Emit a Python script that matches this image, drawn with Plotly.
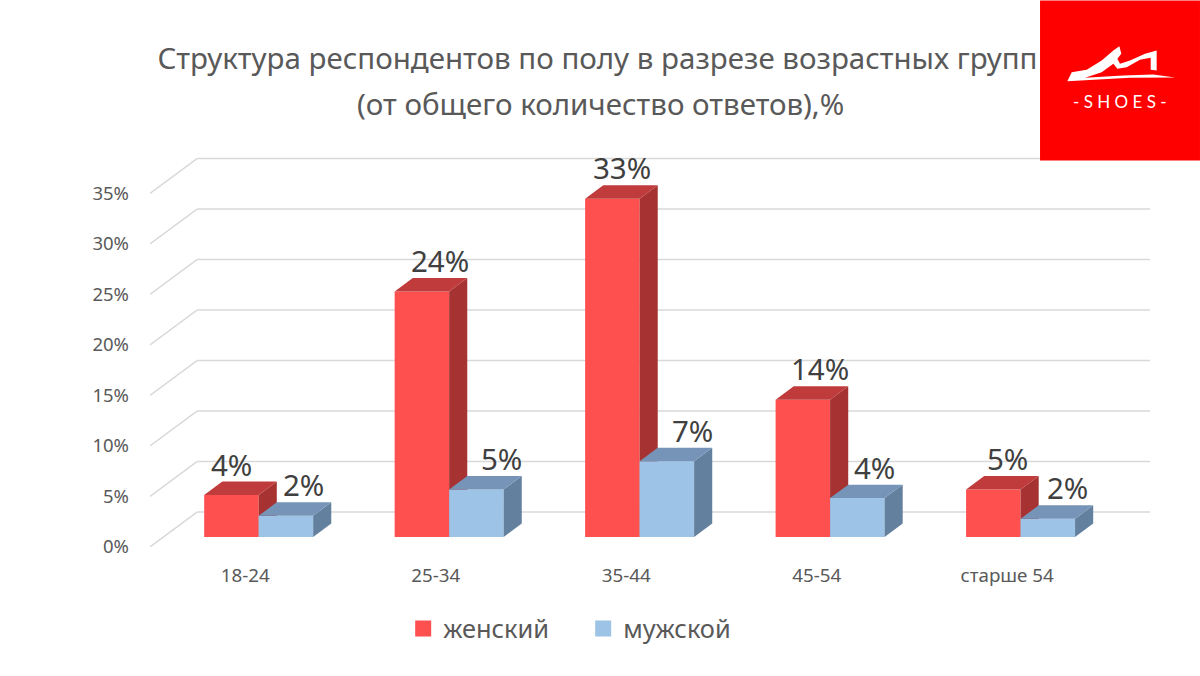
import plotly.graph_objects as go

# ---- data ----
categories = ["18-24", "25-34", "35-44", "45-54", "старше 54"]
female = [4.15, 24.3, 33.5, 13.6, 4.7]
male = [2.1, 4.7, 7.5, 3.85, 1.8]
female_labels = ["4%", "24%", "33%", "14%", "5%"]
male_labels = ["2%", "5%", "7%", "4%", "2%"]
y_ticks = [0, 5, 10, 15, 20, 25, 30, 35]
y_tick_labels = ["0%", "5%", "10%", "15%", "20%", "25%", "30%", "35%"]
title_line_1 = "Структура респондентов по полу в разрезе возрастных групп"
title_line_2 = "(от общего количество ответов),%"

# ---- styling / projection ----
W, H = 1200, 676
FONT = "Noto Sans"
GREY = "#595959"
PLOT_L, PLOT_R, PLOT_T, PLOT_B = 149.75, 1150.0, 142.6, 547.0
PX_X = 190.5            # px per category
PX_Y = 10.11            # px per percent
DX = 47 / PX_X          # wall depth, x units
DY = 35 / PX_Y          # wall depth, y units
BAR_NEAR = 10 / 35      # depth fraction of the bars' front face
BAR_FAR = 23.5 / 35     # depth fraction of the bars' back face
BAR_W = 54.5 / PX_X
F_NUDGE = [0, 18, 10, 17, 14]
M_NUDGE = [18, 25, 26, 17, 20]
X_RANGE = [-0.5, 4.75]
Y_RANGE = [0, 40]

bx0 = BAR_NEAR * DX
by0 = BAR_NEAR * DY
ddx = (BAR_FAR - BAR_NEAR) * DX
ddy = (BAR_FAR - BAR_NEAR) * DY


def pxx(px):
    return (px - PLOT_L) / (PLOT_R - PLOT_L)


def pxy(py):
    return (PLOT_B - py) / (PLOT_B - PLOT_T)


def faces(values, centers):
    sx, sy, tx, ty = [], [], [], []
    for v, c in zip(values, centers):
        l, r, top = c - BAR_W / 2, c + BAR_W / 2, by0 + v
        sx += [r, r, r + ddx, r + ddx, r, None]
        sy += [by0, top, top + ddy, by0 + ddy, by0, None]
        tx += [l, r, r + ddx, l + ddx, l, None]
        ty += [top, top, top + ddy, top + ddy, top, None]
    return sx, sy, tx, ty


fig = go.Figure()
series = [
    ("женский", female, -BAR_W / 2, "#FF5050", "#A63232", "#C03C3C", "x", "y"),
    ("мужской", male, BAR_W / 2, "#9DC3E6", "#64809F", "#7594B8", "x2", "y2"),
]
for name, vals, off, front, side, top, xa, ya in series:
    centers = [i + bx0 + off for i in range(len(categories))]
    fig.add_trace(go.Bar(x=centers, y=vals, base=by0, width=BAR_W, name=name, showlegend=False,
                         marker=dict(color=front, line=dict(width=0)),
                         xaxis=xa, yaxis=ya, hoverinfo="skip"))
    sx, sy, tx, ty = faces(vals, centers)
    for px, py, col in ((sx, sy, side), (tx, ty, top)):
        fig.add_trace(go.Scatter(x=px, y=py, mode="lines", fill="toself", fillcolor=col,
                                 line=dict(width=0, color=col), showlegend=False,
                                 xaxis=xa, yaxis=ya, hoverinfo="skip"))
    fig.add_trace(go.Scatter(x=[None], y=[None], mode="markers", name=name, xaxis=xa, yaxis=ya,
                             marker=dict(symbol="square", size=16, color=front)))

shapes = []
grid = dict(type="line", xref="x", yref="y", layer="below", line=dict(color="#D9D9D9", width=1.5))
for t in y_ticks:
    shapes.append(dict(grid, x0=X_RANGE[0], y0=t, x1=X_RANGE[0] + DX, y1=t + DY))
    shapes.append(dict(grid, x0=X_RANGE[0] + DX, y0=t + DY, x1=X_RANGE[1], y1=t + DY))

# ---- logo (decoration, in pixels of the zoomed crop) ----
def lx(p): return pxx(1030 + p / 3)
def ly(p): return pxy(p / 3)

shoe = [(112, 242), (125, 215), (170, 208), (215, 180), (250, 150), (268, 137), (274, 160),
        (262, 175), (270, 190), (300, 180), (345, 160), (380, 150), (380, 210), (362, 208),
        (362, 172), (330, 178), (290, 200), (262, 205), (250, 190), (215, 215), (165, 232),
        (280, 225), (370, 222), (435, 231), (300, 232)]
path = "M" + " L".join(f"{lx(a):.5f},{ly(b):.5f}" for a, b in shoe) + " Z"
shapes.append(dict(type="rect", xref="paper", yref="paper", x0=pxx(1040), x1=pxx(1200), y0=pxy(160), y1=pxy(0),
                   fillcolor="#FF0000", line=dict(width=0), layer="above"))
shapes.append(dict(type="path", xref="paper", yref="paper", path=path,
                   fillcolor="#FFFFFF", line=dict(width=0), layer="above"))

annotations = [
    dict(xref="paper", yref="paper", x=pxx(1120), y=pxy(101), text="- S H O E S -",
         xanchor="center", yanchor="middle",
         showarrow=False, font=dict(family="Lato", size=17, color="#FFFFFF")),
    dict(xref="paper", yref="paper", x=pxx(600), y=pxy(103), text=title_line_2,
         xanchor="center", yanchor="middle",
         showarrow=False, font=dict(family=FONT, size=29.5, color=GREY)),
]
for vals, labels, nudges, off in ((female, female_labels, F_NUDGE, -BAR_W / 2),
                                  (male, male_labels, M_NUDGE, BAR_W / 2)):
    for i, (v, lab, n) in enumerate(zip(vals, labels, nudges)):
        annotations.append(dict(x=i + bx0 + off, y=by0 + v, xref="x", yref="y", text=lab,
                                showarrow=False, xshift=n, yshift=31, yanchor="middle",
                                font=dict(family=FONT, size=29.5, color="#404040")))

fig.update_layout(
    width=W, height=H, paper_bgcolor="white", plot_bgcolor="white",
    margin=dict(l=PLOT_L, r=W - PLOT_R, t=PLOT_T, b=H - PLOT_B, autoexpand=False),
    barmode="overlay",
    title=dict(text=title_line_1, x=597.5 / W, xanchor="center", y=1 - 59 / H, yanchor="middle",
               font=dict(family=FONT, size=29.5, color=GREY)),
    xaxis=dict(range=X_RANGE, tickvals=list(range(len(categories))), ticktext=categories,
               showgrid=False, zeroline=False, showline=False, ticks="", ticklabelstandoff=15,
               tickfont=dict(family=FONT, size=18.8, color=GREY)),
    yaxis=dict(range=Y_RANGE, tickvals=y_ticks, ticktext=y_tick_labels,
               showgrid=False, zeroline=False, showline=False, ticks="", ticklabelstandoff=20,
               tickfont=dict(family=FONT, size=18.5, color=GREY)),
    xaxis2=dict(range=X_RANGE, overlaying="x", visible=False),
    yaxis2=dict(range=Y_RANGE, overlaying="y", visible=False),
    shapes=shapes, annotations=annotations, showlegend=True,
    legend=dict(orientation="h", x=pxx(403), xanchor="left", y=pxy(629), yanchor="middle",
                font=dict(family=FONT, size=25.4, color=GREY), entrywidth=135, entrywidthmode="pixels",
                itemsizing="trace", itemclick=False, itemdoubleclick=False, bgcolor="rgba(0,0,0,0)"),
)
fig.write_html("out.html", post_script="document.body.style.margin='0';",
               config={"displayModeBar": False})
